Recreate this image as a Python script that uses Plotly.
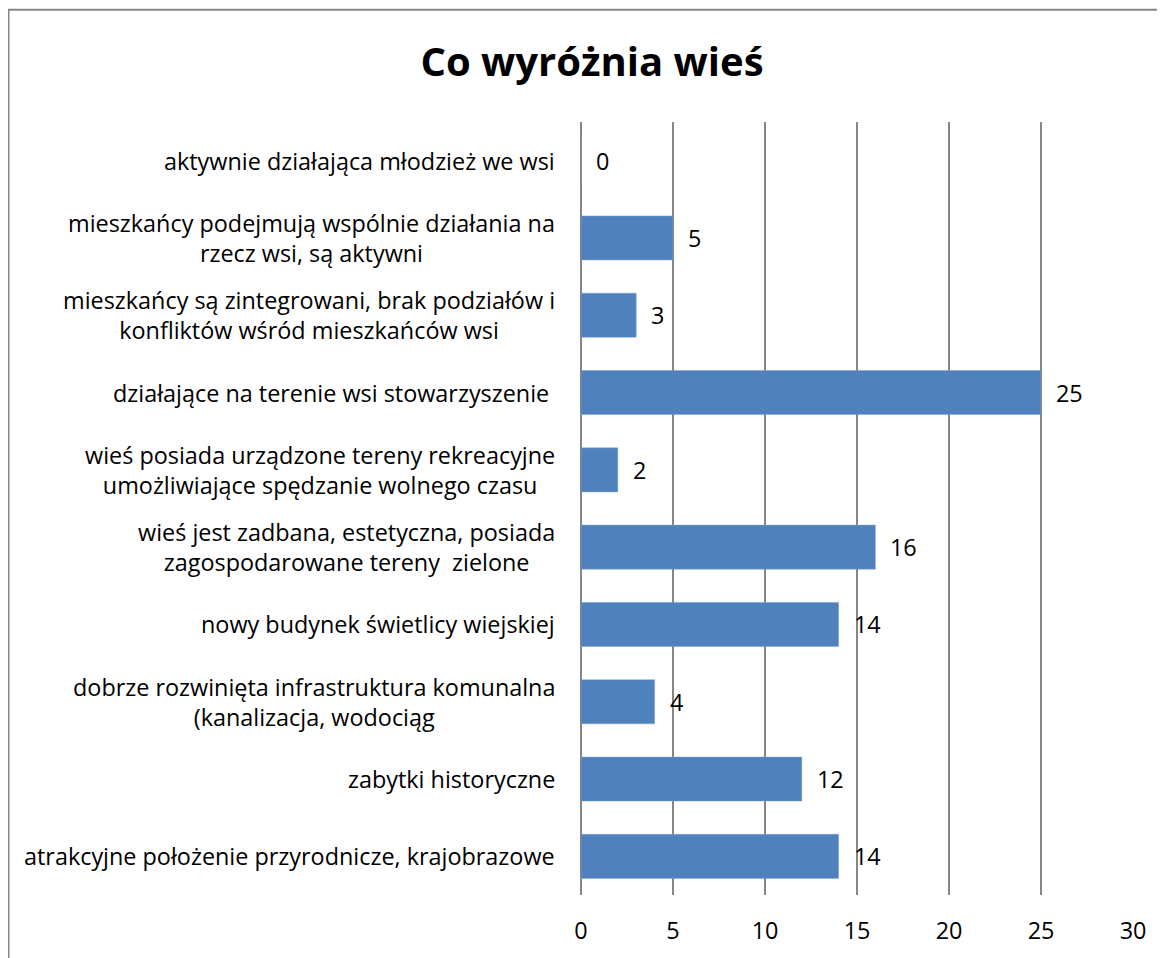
import plotly.graph_objects as go

# Data (bottom to top, as plotted)
categories = [
    "atrakcyjne położenie przyrodnicze, krajobrazowe",
    "zabytki historyczne",
    "dobrze rozwinięta infrastruktura komunalna<br>(kanalizacja, wodociąg",
    "nowy budynek świetlicy wiejskiej",
    "wieś jest zadbana, estetyczna, posiada<br>zagospodarowane tereny  zielone",
    "wieś posiada urządzone tereny rekreacyjne<br>umożliwiające spędzanie wolnego czasu",
    "działające na terenie wsi stowarzyszenie ",
    "mieszkańcy są zintegrowani, brak podziałów i<br>konfliktów wśród mieszkańców wsi",
    "mieszkańcy podejmują wspólnie działania na<br>rzecz wsi, są aktywni",
    "aktywnie działająca młodzież we wsi",
]
values = [14, 12, 4, 14, 16, 2, 25, 3, 5, 0]
x_ticks = [0, 5, 10, 15, 20, 25, 30]
title_text = "Co wyróżnia wieś"

W, H = 1157, 950
ML, MR, MT, MB = 573, 32, 114, 61
FONT = "Open Sans"
FS = 23.4
BAR = "#4F81BD"
GRID = "#868686"

fig = go.Figure()
fig.add_trace(go.Bar(
    x=values, y=categories, orientation="h",
    marker=dict(color=BAR, line=dict(color="#7fa3d1", width=0.5)),
    hoverinfo="x+y",
))

# category labels (centered multi-line, right-anchored like Excel)
for c in categories:
    fig.add_annotation(
        x=0, xref="paper", y=c, yref="y", text=c, showarrow=False,
        xanchor="right", yanchor="middle", align="center", xshift=-24,
        font=dict(family=FONT, size=FS, color="#000000"),
    )

# data labels
for c, v in zip(categories, values):
    fig.add_annotation(
        x=v, xref="x", y=c, yref="y", text=str(v), showarrow=False,
        xanchor="left", yanchor="middle", xshift=13,
        font=dict(family=FONT, size=FS, color="#000000"),
    )

# outer chart border (extends past the right/bottom of the picture)
pw = W - ML - MR
ph = H - MT - MB
fig.add_shape(
    type="rect", xref="paper", yref="paper",
    x0=(0.5 - ML) / pw, x1=(W + 20 - ML) / pw,
    y0=-(MB + 20) / ph, y1=1 + (MT - 1.5) / ph,
    line=dict(color=GRID, width=2), fillcolor="rgba(0,0,0,0)", layer="below",
)

fig.update_layout(
    width=W, height=H,
    margin=dict(l=ML, r=MR, t=MT, b=MB, pad=0),
    paper_bgcolor="white", plot_bgcolor="white",
    showlegend=False,
    bargap=0.43,
    title=dict(
        text=title_text, xref="container", yref="container",
        x=584 / W, y=1 - 54 / H, xanchor="center", yanchor="middle",
        font=dict(family=FONT, size=40, color="#000000", weight="bold"),
    ),
    xaxis=dict(
        range=[0, 30], tickvals=x_ticks, ticktext=[str(t) for t in x_ticks],
        showgrid=True, gridcolor=GRID, gridwidth=1.5,
        zeroline=True, zerolinecolor=GRID, zerolinewidth=1.5,
        showline=False, ticks="", ticklabelstandoff=20,
        tickfont=dict(family=FONT, size=FS, color="#000000"),
        fixedrange=True,
    ),
    yaxis=dict(
        type="category", categoryorder="array", categoryarray=categories,
        showticklabels=False, showgrid=False, zeroline=False, showline=False,
        ticks="", fixedrange=True,
    ),
)

fig.write_html("out.html")
